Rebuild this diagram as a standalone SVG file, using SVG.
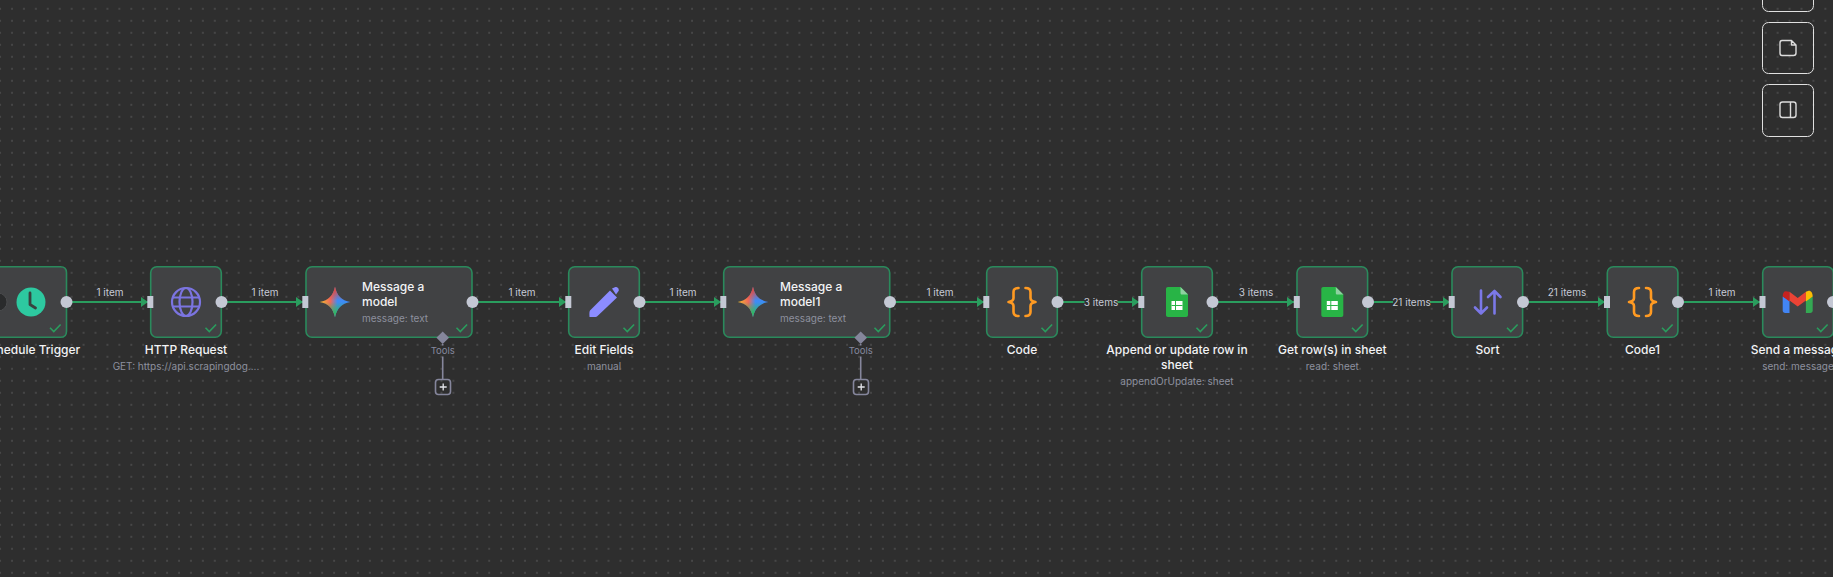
<svg xmlns="http://www.w3.org/2000/svg" width="1833" height="577" viewBox="0 0 1833 577">
<style>
text{font-family:Inter,"Noto Sans","Liberation Sans",sans-serif}
.n{fill:#414244;stroke:#2a8a5c;stroke-width:1.6}
.t{fill:#f2f3f5;font-size:12px;font-weight:500;text-anchor:middle}
.tl{fill:#f2f3f5;font-size:12px;font-weight:500}
.s{fill:#8d909e;font-size:10px;text-anchor:middle}
.sl{fill:#8d909e;font-size:10px}
.e{fill:#c6cad6;font-size:10px;text-anchor:middle}
.c{fill:none;stroke:#2a9d5e;stroke-width:2}
.bg{fill:#2e2e2e}
.o{fill:#c4c8d4}
.k{fill:none;stroke:#2a9d5e;stroke-width:1.6}
.tool{stroke:#85869c;stroke-width:1.6;fill:none}
.tl2{fill:#85889e;font-size:9.500px;text-anchor:middle}
.b{fill:none;stroke:#e0e0e0;stroke-width:1}
.brace{fill:none;stroke:#ff9a22;stroke-width:2.6;stroke-linecap:round;stroke-linejoin:round}
.ar{fill:none;stroke:#7b78e8;stroke-width:2.6;stroke-linecap:round;stroke-linejoin:round}
</style>
<defs>
<pattern id="dots" width="11.93" height="12" patternUnits="userSpaceOnUse" x="6" y="2.8"><rect x="5.4" y="5.4" width="1.2" height="1.2" fill="#6e6f70"/></pattern>
<marker id="arrow" markerUnits="userSpaceOnUse" markerWidth="8" markerHeight="12" refX="7" refY="5" orient="auto"><path d="M0 0L7 5L0 10Z" fill="#2a9d5e"/></marker>
<g id="check"><path class="k" d="M0 3.8L3.8 7.5L10.6 0.5"/></g>
<g id="inp"><rect class="o" x="0" y="0" width="6" height="12"/></g>
<linearGradient id="g1" x1="0" y1="0" x2="1" y2="0"><stop offset="0" stop-color="#f8c02a"/><stop offset=".35" stop-color="#f0685a"/><stop offset=".58" stop-color="#3f8cf5"/><stop offset="1" stop-color="#3a8af8"/></linearGradient>
<linearGradient id="g2" x1="0" y1="0" x2="0" y2="1"><stop offset=".5" stop-color="#2fb866" stop-opacity="0"/><stop offset=".85" stop-color="#2fb866"/></linearGradient>
<linearGradient id="g3" x1="0" y1="1" x2="0" y2="0"><stop offset=".55" stop-color="#ea4335" stop-opacity="0"/><stop offset=".95" stop-color="#ea4335"/></linearGradient>
<g id="gem">
<path d="M0 -15.300C1.700 -6.500 6.500 -1.700 15.300 0C6.500 1.700 1.700 6.500 0 15.300C-1.700 6.500 -6.500 1.700 -15.300 0C-6.500 -1.700 -1.700 -6.500 0 -15.300Z" fill="url(#g1)"/>
<path d="M0 -15.300C1.700 -6.500 6.500 -1.700 15.300 0C6.500 1.700 1.700 6.500 0 15.300C-1.700 6.500 -6.500 1.700 -15.300 0C-6.500 -1.700 -1.700 -6.500 0 -15.300Z" fill="url(#g2)"/>
<path d="M0 -15.300C1.700 -6.500 6.500 -1.700 15.300 0C6.500 1.700 1.700 6.500 0 15.300C-1.700 6.500 -6.500 1.700 -15.300 0C-6.500 -1.700 -1.700 -6.500 0 -15.300Z" fill="url(#g3)"/>
</g>
<g id="brc"><path class="brace" d="M-3.500 -14C-7.500 -14 -8.500 -12.500 -8.500 -10V-4C-8.500 -1.500 -10.500 -0.500 -13.500 0C-10.500 0.500 -8.500 1.500 -8.500 4V10C-8.500 12.500 -7.500 14 -3.500 14"/><path class="brace" d="M3.500 -14C7.500 -14 8.500 -12.500 8.500 -10V-4C8.500 -1.500 10.500 -0.500 13.500 0C10.500 0.500 8.500 1.500 8.500 4V10C8.500 12.500 7.500 14 3.500 14"/></g>
<g id="sheet"><path d="M-9 -15H3.500L11 -7.500V13C11 14.200 10.200 15 9 15H-9C-10.200 15 -11 14.200 -11 13V-13C-11 -14.200 -10.200 -15 -9 -15Z" fill="#28b446"/><path d="M3.500 -15L11 -7.500H5C4 -7.500 3.500 -8 3.500 -9Z" fill="#8ed1a0"/><path d="M-5.500 -1H5.500V8H-5.500Z" fill="#fff"/><path d="M-5.500 3.500H5.500M-1.500 -1V8" stroke="#28b446" stroke-width="1" fill="none"/></g>
</defs>

<rect width="1833" height="577" fill="#2e2e2e"/>
<rect width="1833" height="577" fill="url(#dots)"/>

<g id="connectors">
<path class="c" marker-end="url(#arrow)" d="M72 302H148"/>
<path class="c" marker-end="url(#arrow)" d="M227 302H303"/>
<path class="c" marker-end="url(#arrow)" d="M478 302H566"/>
<path class="c" marker-end="url(#arrow)" d="M645 302H721"/>
<path class="c" marker-end="url(#arrow)" d="M896 302H984"/>
<path class="c" marker-end="url(#arrow)" d="M1063 302H1139"/>
<path class="c" marker-end="url(#arrow)" d="M1218 302H1294"/>
<path class="c" marker-end="url(#arrow)" d="M1374 302H1450"/>
<path class="c" marker-end="url(#arrow)" d="M1529 302H1605"/>
<path class="c" marker-end="url(#arrow)" d="M1684 302H1760"/>
<text class="e" x="110" y="296">1 item</text>
<text class="e" x="265" y="296">1 item</text>
<text class="e" x="522" y="296">1 item</text>
<text class="e" x="683" y="296">1 item</text>
<text class="e" x="940" y="296">1 item</text>
<rect class="bg" x="1084.500" y="296" width="33" height="13"/>
<text class="e" x="1101" y="306.300">3 items</text>
<text class="e" x="1256" y="296">3 items</text>
<rect class="bg" x="1393" y="296" width="37" height="13"/>
<text class="e" x="1411.500" y="306.300">21 items</text>
<text class="e" x="1567" y="296">21 items</text>
<text class="e" x="1722" y="296">1 item</text>
</g>

<g id="schedule-trigger">
<path class="n" d="M-4 266.700H60.500Q66.500 266.700 66.500 272.700V331.300Q66.500 337.300 60.500 337.300H-4C-24 337.300 -36 320 -36 302C-36 284 -24 266.700 -4 266.700Z"/>
<circle cx="-2" cy="302" r="9" fill="#2a2b2c" stroke="#4a4b4d"/>
<circle cx="31" cy="302" r="14.500" fill="#2dc9a0"/>
<path d="M30 293V304.500L35.500 308" fill="none" stroke="#38433f" stroke-width="2.800" stroke-linecap="round" stroke-linejoin="round"/>
<use href="#check" x="50" y="324"/>
<circle class="o" cx="66.500" cy="302" r="6"/>
<text class="t" x="31" y="354.300">Schedule Trigger</text>
</g>

<g id="http-request">
<rect class="n" x="150.700" y="266.700" width="70.600" height="70.600" rx="6"/>
<g fill="none" stroke="#7b74e0" stroke-width="2.200"><circle cx="186" cy="302" r="14"/><ellipse cx="186" cy="302" rx="6.500" ry="14"/><path d="M172.800 297.500H199.200M172.800 306.500H199.200"/></g>
<use href="#inp" x="147.300" y="296"/>
<use href="#check" x="205.500" y="324"/>
<circle class="o" cx="221.500" cy="302" r="6"/>
<text class="t" x="186" y="354.300">HTTP Request</text>
<text class="s" x="186" y="370.300">GET: https://api.scrapingdog....</text>
</g>

<g id="message-a-model">
<rect class="n" x="306" y="266.700" width="166" height="70.600" rx="6"/>
<use href="#gem" x="335" y="302"/>
<use href="#inp" x="302.300" y="296"/>
<use href="#check" x="456.500" y="324"/>
<circle class="o" cx="472.500" cy="302" r="6"/>
<text class="tl" x="362" y="291.300">Message a</text>
<text class="tl" x="362" y="306.300">model</text>
<text class="sl" x="362" y="322.300">message: text</text>
<path class="tool" d="M442.700 344V345.500M442.700 356.500V379"/>
<path d="M442.700 331.500L449 337.800L442.700 344L436.400 337.800Z" fill="#85869c"/>
<text class="tl2" x="442.700" y="354">Tools</text>
<rect class="tool" x="435.500" y="379.500" width="15" height="15" rx="3"/>
<path d="M439.700 387H446.700M443.200 383.500V390.500" stroke="#e4e5ea" stroke-width="1.300"/>
</g>

<g id="edit-fields">
<rect class="n" x="568.700" y="266.700" width="70.600" height="70.600" rx="6"/>
<path d="M612 288.500L615.500 287C616.500 286.700 617 287 617.700 287.700L618.300 288.300L618.700 289.500C619 290.500 618.700 291 618 291.700L616 294.500ZM610 290.500L617 297.500L597 316.500C596 317 595 317 589.500 317C589.300 313 589.300 311.500 590 310.500Z" fill="#8c8cff"/>
<use href="#inp" x="565.300" y="296"/>
<use href="#check" x="623.500" y="324"/>
<circle class="o" cx="639.500" cy="302" r="6"/>
<text class="t" x="604" y="354.300">Edit Fields</text>
<text class="s" x="604" y="370.300">manual</text>
</g>

<g id="message-a-model1">
<rect class="n" x="723.700" y="266.700" width="166" height="70.600" rx="6"/>
<use href="#gem" x="753" y="302"/>
<use href="#inp" x="720.300" y="296"/>
<use href="#check" x="874.500" y="324"/>
<circle class="o" cx="890" cy="302" r="6"/>
<text class="tl" x="780" y="291.300">Message a</text>
<text class="tl" x="780" y="306.300">model1</text>
<text class="sl" x="780" y="322.300">message: text</text>
<path class="tool" d="M860.700 344V345.500M860.700 356.500V379"/>
<path d="M860.700 331.500L867 337.800L860.700 344L854.400 337.800Z" fill="#85869c"/>
<text class="tl2" x="860.700" y="354">Tools</text>
<rect class="tool" x="853.500" y="379.500" width="15" height="15" rx="3"/>
<path d="M857.700 387H864.700M861.200 383.500V390.500" stroke="#e4e5ea" stroke-width="1.300"/>
</g>

<g id="code">
<rect class="n" x="986.700" y="266.700" width="70.600" height="70.600" rx="6"/>
<use href="#brc" x="1022" y="302"/>
<use href="#inp" x="983.300" y="296"/>
<use href="#check" x="1041.500" y="324"/>
<circle class="o" cx="1057.500" cy="302" r="6"/>
<text class="t" x="1022" y="354.300">Code</text>
</g>

<g id="append-or-update">
<rect class="n" x="1141.700" y="266.700" width="70.600" height="70.600" rx="6"/>
<use href="#sheet" x="1177" y="302"/>
<use href="#inp" x="1138.300" y="296"/>
<use href="#check" x="1196.500" y="324"/>
<circle class="o" cx="1212.500" cy="302" r="6"/>
<text class="t" x="1177" y="354.300">Append or update row in</text>
<text class="t" x="1177" y="369.300">sheet</text>
<text class="s" x="1177" y="385.300">appendOrUpdate: sheet</text>
</g>

<g id="get-rows">
<rect class="n" x="1297" y="266.700" width="70.600" height="70.600" rx="6"/>
<use href="#sheet" x="1332.300" y="302"/>
<use href="#inp" x="1293.800" y="296"/>
<use href="#check" x="1352" y="324"/>
<circle class="o" cx="1368" cy="302" r="6"/>
<text class="t" x="1332.300" y="354.300">Get row(s) in sheet</text>
<text class="s" x="1332.300" y="370.300">read: sheet</text>
</g>

<g id="sort">
<rect class="n" x="1452" y="266.700" width="70.600" height="70.600" rx="6"/>
<path class="ar" d="M1481 290.500V313.500M1475 307.500L1481 313.500L1487 307.500"/>
<path class="ar" d="M1494.500 313.500V291M1488 297L1494.500 291L1500.500 297"/>
<use href="#inp" x="1448.700" y="296"/>
<use href="#check" x="1507" y="324"/>
<circle class="o" cx="1523" cy="302" r="6"/>
<text class="t" x="1487.500" y="354.300">Sort</text>
</g>

<g id="code1">
<rect class="n" x="1607.300" y="266.700" width="70.600" height="70.600" rx="6"/>
<use href="#brc" x="1642.500" y="302"/>
<use href="#inp" x="1604" y="296"/>
<use href="#check" x="1662" y="324"/>
<circle class="o" cx="1678" cy="302" r="6"/>
<text class="t" x="1642.500" y="354.300">Code1</text>
</g>

<g id="send-a-message">
<rect class="n" x="1762.700" y="266.700" width="70.600" height="70.600" rx="6"/>
<path d="M1782.700 296.500V310.500C1782.700 312 1783.700 313 1785.200 313H1789.500V300Z" fill="#4285f4"/>
<path d="M1805.900 300V313H1810.200C1811.700 313 1812.700 312 1812.700 310.500V296.500Z" fill="#34a853"/>
<path d="M1782.700 296.500L1789.500 301.500V291.800L1787 291.500C1784.500 290.500 1782.700 292.500 1782.700 296.500Z" fill="#c5221f"/>
<path d="M1789.500 291.800V300.500L1797.700 306.500L1805.900 300.500V291.800L1797.700 298Z" fill="#ea4335"/>
<path d="M1805.900 291.800V301.500L1812.700 296.500C1812.700 292.500 1810.500 290 1808 291Z" fill="#fbbc04"/>
<use href="#inp" x="1759.500" y="296"/>
<use href="#check" x="1817" y="324"/>
<circle class="o" cx="1833" cy="302" r="6"/>
<text class="t" x="1798" y="354.300">Send a message</text>
<text class="s" x="1798" y="370.300">send: message</text>
</g>

<g id="toolbar">
<rect class="b" x="1762.500" y="-40" width="51" height="51.500" rx="6"/>
<rect class="b" x="1762.500" y="22.500" width="51" height="51" rx="6"/>
<rect class="b" x="1762.500" y="84.500" width="51" height="52" rx="6"/>
<path d="M1782 40.500H1791.500L1796 45V53C1796 54.500 1795 55.500 1793.500 55.500H1782C1780.500 55.500 1780 54.500 1780 53V43C1780 41.500 1780.500 40.500 1782 40.500ZM1791.500 40.500V45H1796" fill="none" stroke="#dcdcdc" stroke-width="1.400" stroke-linejoin="round"/>
<rect x="1780" y="102" width="16" height="15.500" rx="2.500" fill="none" stroke="#dcdcdc" stroke-width="1.400"/>
<path d="M1790.500 102V117.500" stroke="#dcdcdc" stroke-width="1.400"/>
</g>
</svg>
